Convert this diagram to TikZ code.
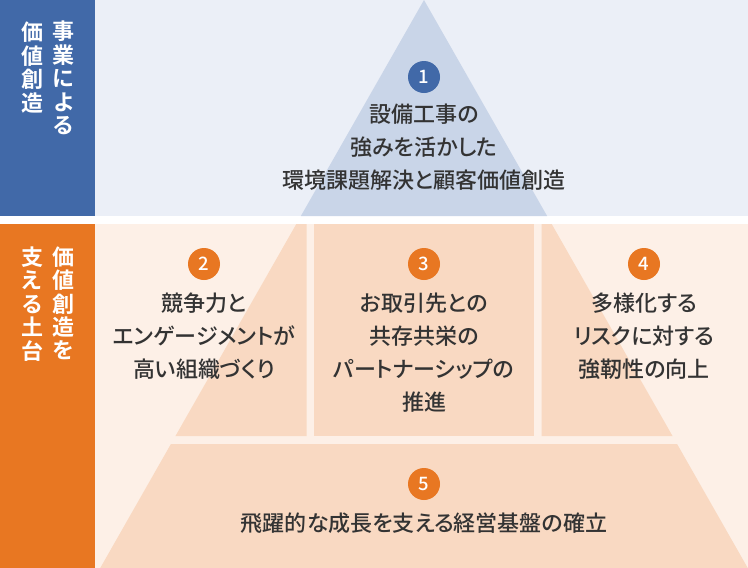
\documentclass[tikz,border=0pt]{standalone}
\usepackage{fontspec}
\setmainfont{Noto Sans CJK JP}[UprightFont={* Medium}, BoldFont={* Bold}, RawFeature=+palt]
\usetikzlibrary{positioning}

\definecolor{barblue}{HTML}{4169A8}
\definecolor{barorange}{HTML}{E87722}
\definecolor{bgblue}{HTML}{EBEFF7}
\definecolor{triblue}{HTML}{C9D5E8}
\definecolor{bgpeach}{HTML}{FDF0E7}
\definecolor{segpeach}{HTML}{F9D9C2}
\definecolor{txtgray}{HTML}{333333}

\begin{document}
\begin{tikzpicture}[x=1pt, y=-1pt,
	numblue/.style={circle, fill=barblue, inner sep=0pt, minimum size=32pt, text=white, font=\fontsize{18.5}{18.5}\selectfont},
	numorange/.style={numblue, fill=barorange},
	caption/.style={align=center, text=txtgray, inner sep=0pt, font=\fontsize{22}{33}\selectfont},
	sidetext/.style={align=center, text=white, inner sep=0pt, anchor=north, font=\bfseries\fontsize{22}{23.4}\selectfont}]
				\useasboundingbox (0,0) rectangle (748,568);
				\fill[white] (0,0) rectangle (748,568);

				% Draw the two bands
				\fill[bgblue] (95,0) rectangle (748,216);
				\fill[barblue] (0,0) rectangle (95,216);
				\fill[bgpeach] (95,224) rectangle (748,568);
				\fill[barorange] (0,224) rectangle (95,568);

				% Draw the top of the pyramid
				\fill[triblue] (424,0) -- (424+0.57*216,216) -- (424-0.57*216,216) -- cycle;

				% Draw the middle row
				\fill[segpeach] (424-0.57*224,224) -- (306.7,224) -- (306.7,436) -- (424-0.57*436,436) -- cycle;
				\fill[segpeach] (314.3,224) rectangle (534,436);
				\fill[segpeach] (541.7,224) -- (424+0.57*224,224) -- (424+0.57*436,436) -- (541.7,436) -- cycle;

				% Draw the base
				\fill[segpeach] (424-0.57*444,444) -- (424+0.57*444,444) -- (424+0.57*568,568) -- (424-0.57*568,568) -- cycle;

				% Side labels
				\node[sidetext] (top right) at (63.5,21) {事\\業\\に\\よ\\る};
				\node[sidetext] (top left) at (32,22) {価\\値\\創\\造};
				\node[sidetext] (low right) at (63.5,246.5) {価\\値\\創\\造\\を};
				\node[sidetext] (low left) at (32,246.5) {支\\え\\る\\土\\台};

				% Numbers
				\node[numblue] (n1) at (424,77) {1};
				\node[numorange] (n2) at (204,264) {2};
				\node[numorange] (n3) at (424,264) {3};
				\node[numorange] (n4) at (644,264) {4};
				\node[numorange] (n5) at (424,484) {5};

				% Texts
				\node[caption] (t1) at (424,147) {設備工事の\\強みを活かした\\環境課題解決と顧客価値創造};
				\node[caption] (t2) at (204,336) {競争力と\\エンゲージメントが\\高い組織づくり};
				\node[caption] (t3) at (424,352.5) {お取引先との\\共存共栄の\\パートナーシップの\\推進};
				\node[caption] (t4) at (644,336) {多様化する\\リスクに対する\\強靭性の向上};
				\node[caption] (t5) at (424,523) {飛躍的な成長を支える経営基盤の確立};
\end{tikzpicture}
\end{document}
